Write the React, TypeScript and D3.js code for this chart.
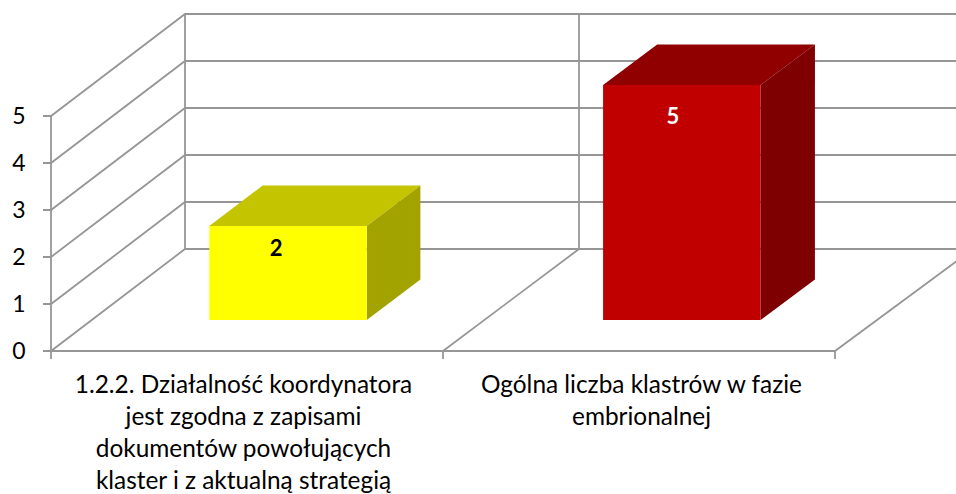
import * as d3 from "d3";

const CATEGORIES = [
  ["1.2.2. Działalność koordynatora", "jest zgodna z zapisami", "dokumentów powołujących", "klaster i z aktualną strategią"],
  ["Ogólna liczba klastrów w fazie", "embrionalnej"],
];
const VALUES = [2, 5];
const Y_TICKS = [0, 1, 2, 3, 4, 5];

const FRONT_COLORS = ["#ffff00", "#c00000"];
const TOP_COLORS = ["#c4c400", "#900000"];
const SIDE_COLORS = ["#a3a300", "#7e0000"];
const LABEL_COLORS = ["#000000", "#ffffff"];
const LABEL_NUDGE = [
  { dx: -12, dy: 22 },
  { dx: -9, dy: 31 },
];
const CATEGORY_NUDGE = [-3.5, 2.5];

const GRID = "#969696";
const FONT = "Lato, Carlito, 'Open Sans', sans-serif";
const width = 956;
const height = 494;

// front and back planes differ slightly in width, project() blends them by depth
const xFront = d3.scaleLinear().domain([0, CATEGORIES.length]).range([51, 835]);
const xBack = d3.scaleLinear().domain([0, CATEGORIES.length]).range([185, 973]);
const y = d3.scaleLinear().domain([0, 5]).range([351, 116]);
const depthY = d3.scaleLinear().domain([0, 1]).range([0, -102]);

const BAR_START = [0.2995, 1.3024];
const BAR_WIDTH = 0.401;
const BAR_Z0 = 0.304;
const BAR_Z1 = 0.7;

const project = (cat: number, val: number, z: number): [number, number] => [
  d3.interpolateNumber(xFront(cat), xBack(cat))(z),
  y(val) + depthY(z),
];
const poly = d3.line();

export default function App() {
  return (
    <svg
      width={width}
      height={height}
      viewBox={`0 0 ${width} ${height}`}
      style={{ position: "absolute", left: 0, top: 0, display: "block", background: "#fff" }}
    >
      <g fill="none" stroke={GRID} strokeWidth={1.8}>
        {Y_TICKS.map((t) => (
          <path key={t} d={poly([[xFront(0) - 8, y(t)], project(0, t, 0), project(0, t, 1), project(2, t, 1)])!} />
        ))}
        <path d={poly([project(0, 0, 0), project(0, 5, 0)])!} />
        <path d={poly([project(0, 0, 1), project(0, 5, 1)])!} />
        <path d={poly([project(1, 0, 1), project(1, 5, 1)])!} />
        <path d={poly([project(0, 0, 0), project(2, 0, 0), project(2, 0, 1)])!} />
        {d3.range(CATEGORIES.length + 1).map((c) => (
          <path key={c} d={poly([[xFront(c), y(0)], [xFront(c), y(0) + 8]])!} />
        ))}
        <path d={poly([project(1, 0, 0), project(1, 0, 1)])!} />
      </g>

      {VALUES.map((v, i) => {
        const left = BAR_START[i];
        const right = left + BAR_WIDTH;
        const [tx, ty] = project(left + BAR_WIDTH / 2, v, BAR_Z0);
        return (
          <g key={i}>
            <path
              fill={TOP_COLORS[i]}
              d={poly([project(left, v, BAR_Z0), project(right, v, BAR_Z0), project(right, v, BAR_Z1), project(left, v, BAR_Z1)])! + "Z"}
            />
            <path
              fill={SIDE_COLORS[i]}
              d={poly([project(right, 0, BAR_Z0), project(right, v, BAR_Z0), project(right, v, BAR_Z1), project(right, 0, BAR_Z1)])! + "Z"}
            />
            <path
              fill={FRONT_COLORS[i]}
              d={poly([project(left, 0, BAR_Z0), project(right, 0, BAR_Z0), project(right, v, BAR_Z0), project(left, v, BAR_Z0)])! + "Z"}
            />
            <text
              x={tx + LABEL_NUDGE[i].dx}
              y={ty + LABEL_NUDGE[i].dy}
              textAnchor="middle"
              dominantBaseline="central"
              fontFamily={FONT}
              fontSize={22}
              fontWeight={700}
              fill={LABEL_COLORS[i]}
            >
              {v}
            </text>
          </g>
        );
      })}

      <g fontFamily={FONT} fontSize={23} fill="#000">
        {Y_TICKS.map((t) => (
          <text key={t} x={19} y={y(t) + 8} textAnchor="middle">
            {t}
          </text>
        ))}
      </g>
      <g fontFamily={FONT} fontSize={24.4} fill="#000">
        {CATEGORIES.map((lines, c) =>
          lines.map((line, j) => (
            <text
              key={line}
              x={(xFront(c) + xFront(c + 1)) / 2 + CATEGORY_NUDGE[c]}
              y={392.5 + j * 32.3}
              textAnchor="middle"
            >
              {line}
            </text>
          ))
        )}
      </g>
    </svg>
  );
}
